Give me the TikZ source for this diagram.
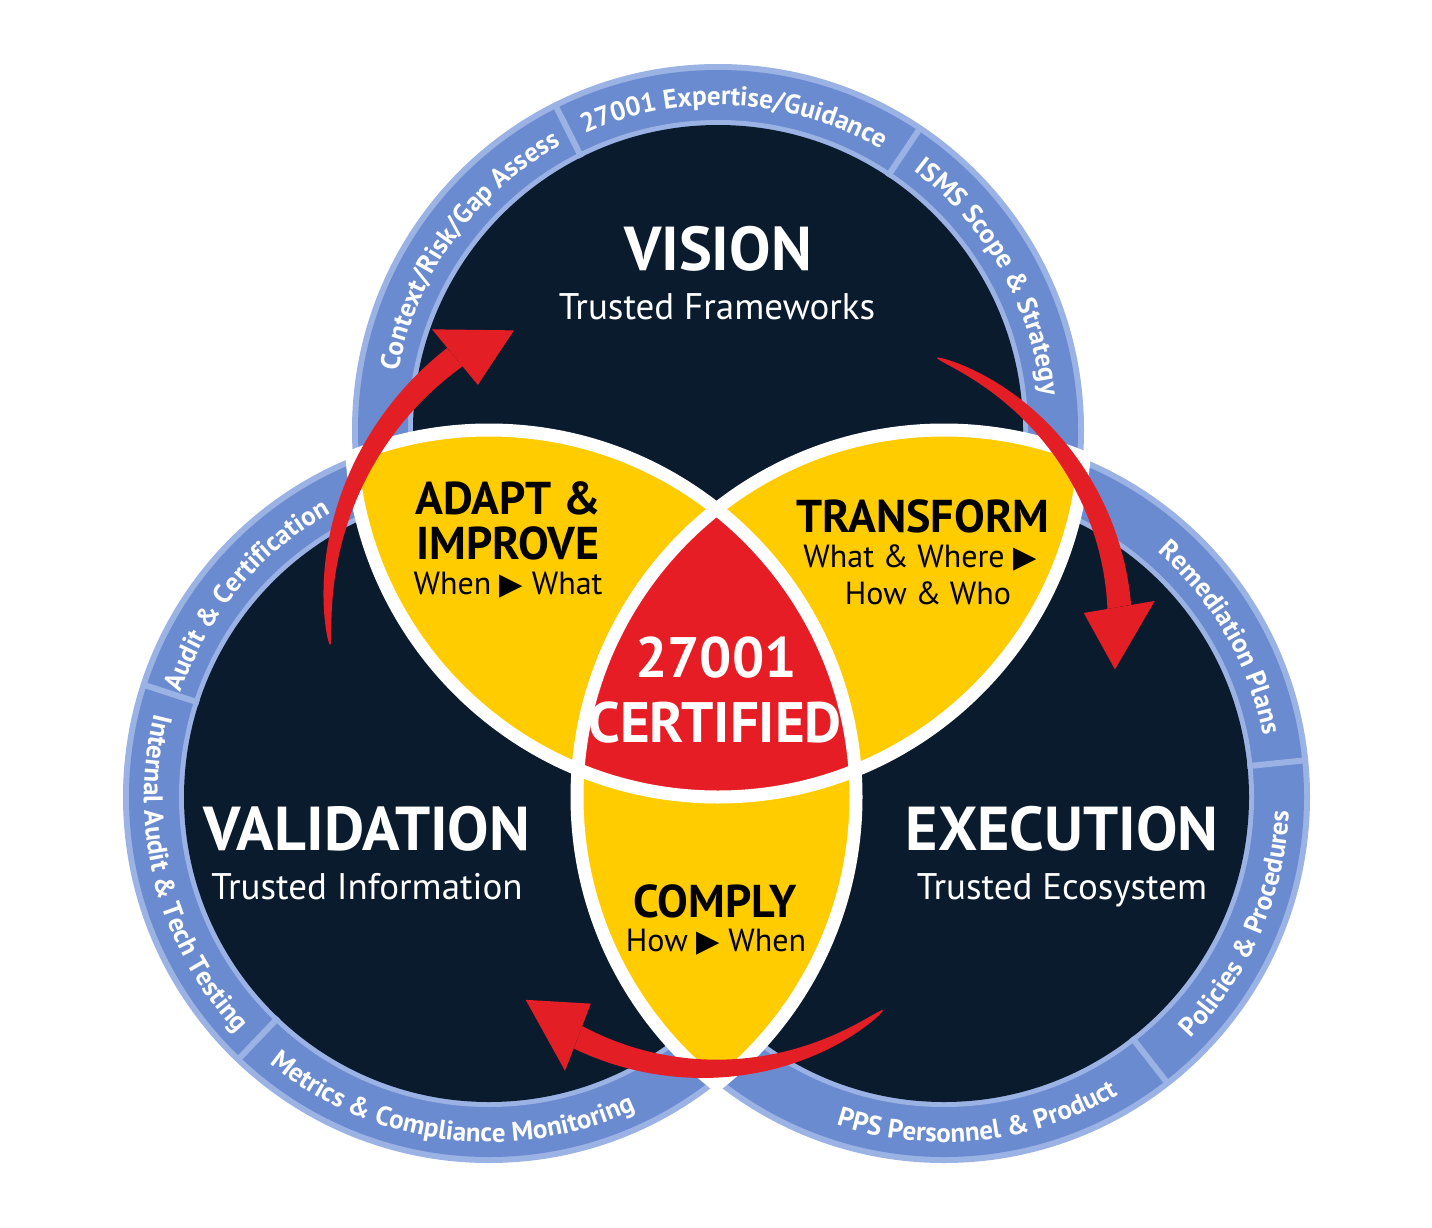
\documentclass[tikz,border=0pt]{standalone}
\usepackage{fontspec}
\usepackage{graphicx}
\setmainfont{PT Sans}
\newfontfamily\symfont{DejaVu Sans}
\usetikzlibrary{decorations.text}
\definecolor{navy}{HTML}{0B1B2E}
\definecolor{ringblue}{HTML}{6A8BCF}
\definecolor{ringlight}{HTML}{9BB2E4}
\definecolor{lensyellow}{HTML}{FFCC00}
\definecolor{certred}{HTML}{E71D25}
\definecolor{arrowred}{HTML}{E31E24}
\newcommand{\rf}{\bfseries\fontsize{27}{27}\selectfont}
\newcommand{\tri}{{\symfont\scalebox{0.95}{▶}}}
\newcommand{\ringdisk}[1]{%
  \fill[ringlight] (#1) circle[radius=366];
  \fill[ringblue] (#1) circle[radius=360];
  \fill[ringlight] (#1) circle[radius=310];
  \fill[navy] (#1) circle[radius=305];}
\newcommand{\divider}[2]{%
  \draw[ringlight, line width=6pt] ([shift={(#2:305)}]#1) -- ([shift={(#2:363)}]#1);}
% clockwise text (letter tops outward)
\newcommand{\cwtext}[3]{%
  \path[decorate, decoration={text along path, text align=center, text color=white, text={|\rf|#3}}]
    ([shift={({#2+45}:325)}]#1) arc[start angle={#2+45}, end angle={#2-45}, radius=325];}
% counter-clockwise text (letter tops inward)
\newcommand{\ccwtext}[3]{%
  \path[decorate, decoration={text along path, text align=center, text color=white, text={|\rf|#3}}]
    ([shift={({#2-45}:345)}]#1) arc[start angle={#2-45}, end angle={#2+45}, radius=345];}
\newcommand{\redarrow}[9]{%
  \begin{scope}[shift={(O)}]
  \fill[arrowred] plot[domain=0.002:1, samples=60, variable=\s]
      ({#1+(#2-#1)*\s}:{#4+(#5-#4)*\s+4*#6*\s*(1-\s)+0.5*#8*sqrt(\s)})
    -- plot[domain=1:0.002, samples=60, variable=\s]
      ({#1+(#2-#1)*\s}:{#4+(#5-#4)*\s+4*#6*\s*(1-\s)-0.5*#8*sqrt(\s)}) -- cycle;
  \fill[arrowred] (#2:{#5+#9}) -- (#3:#7) -- (#2:{#5-#9}) -- cycle;
  \end{scope}}
\tikzset{
  title/.style={anchor=base, inner sep=0pt, text=white, font=\bfseries\fontsize{62}{62}\selectfont},
  subtitle/.style={anchor=base, inner sep=0pt, text=white, font=\fontsize{37}{37}\selectfont},
  lenstitle/.style={anchor=base, inner sep=0pt, text=black, font=\bfseries\fontsize{46}{46}\selectfont},
  lenssub/.style={anchor=base, inner sep=0pt, text=black, font=\fontsize{32}{32}\selectfont},
  certtext/.style={anchor=base, inner sep=0pt, text=white, font=\bfseries\fontsize{57}{57}\selectfont},
  whiteline/.style={draw=white, line width=13pt},
}
\begin{document}
\begin{tikzpicture}[x=1pt, y=1pt]
\useasboundingbox (0,0) rectangle (1432,-1228);
\fill[white] (0,0) rectangle (1432,-1228);
\coordinate (T) at (718,-430);
\coordinate (L) at (489,-797);
\coordinate (R) at (944,-797);
\coordinate (O) at (717,-675);

% ---- top circle
\ringdisk{T}
\divider{T}{116.6}
\divider{T}{56.2}
\cwtext{T}{144.3}{Context/Risk/Gap Assess}
\cwtext{T}{87}{27001 Expertise/Guidance}
\cwtext{T}{29.5}{ISMS Scope {\&} Strategy}

% ---- bottom-left circle
\ringdisk{L}
\divider{L}{162}
\divider{L}{226.3}
\cwtext{L}{140.2}{Audit {\&} Certification}
\ccwtext{L}{194.6}{Internal Audit {\&} Tech Testing}
\ccwtext{L}{262.8}{Metrics {\&} Compliance Monitoring}

% ---- bottom-right circle
\ringdisk{R}
\divider{R}{5.8}
\divider{R}{308}
\ccwtext{R}{276.1}{PPS Personnel {\&} Product}
\ccwtext{R}{336.6}{Policies {\&} Procedures}
\cwtext{R}{30}{Remediation Plans}

% ---- overlaps
\begin{scope}
  \clip (T) circle[radius=367];
  \fill[lensyellow] (L) circle[radius=367];
  \fill[lensyellow] (R) circle[radius=367];
\end{scope}
\begin{scope}
  \clip (L) circle[radius=367];
  \fill[lensyellow] (R) circle[radius=367];
\end{scope}
\begin{scope}
  \clip (T) circle[radius=367];
  \clip (L) circle[radius=367];
  \fill[certred] (R) circle[radius=367];
\end{scope}
\begin{scope}
  \clip (L) circle[radius=368] (R) circle[radius=368];
  \draw[whiteline] (T) circle[radius=367];
\end{scope}
\begin{scope}
  \clip (T) circle[radius=368] (R) circle[radius=368];
  \draw[whiteline] (L) circle[radius=367];
\end{scope}
\begin{scope}
  \clip (T) circle[radius=368] (L) circle[radius=368];
  \draw[whiteline] (R) circle[radius=367];
\end{scope}

% ---- labels
\node[title] (vision) at (718,-270) {VISION};
\node[subtitle] (visionsub) at (717,-319) {Trusted Frameworks};
\node[title] (validation) at (367,-850) {VALIDATION};
\node[subtitle] (validationsub) at (367,-899) {Trusted Information};
\node[title] (execution) at (1062,-850) {EXECUTION};
\node[subtitle] (executionsub) at (1062,-899) {Trusted Ecosystem};
\node[lenstitle] (adapt) at (508,-514) {ADAPT \&};
\node[lenstitle] (improve) at (508,-559) {IMPROVE};
\node[lenssub] (adaptsub) at (508,-594) {When \tri{} What};
\node[lenstitle] (transform) at (923,-532) {TRANSFORM};
\node[lenssub] (transformsub) at (920,-567) {What \& Where \tri};
\node[lenssub] (transformsub2) at (928,-604) {How \& Who};
\node[certtext] (cert1) at (716,-677) {27001};
\node[certtext] (cert2) at (715,-742) {CERTIFIED};
\node[lenstitle] (comply) at (715,-917) {COMPLY};
\node[lenssub] (complysub) at (716,-951) {How \tri{} When};

% ---- cycle arrows
\redarrow{175.6}{129.5}{120.5}{388}{412}{10}{400}{24}{36}
\redarrow{55.3}{9.6}{0.8}{386}{408}{14}{398}{24}{36}
\redarrow{296.4}{249}{239.5}{374}{388}{12}{377}{24}{36}
\end{tikzpicture}
\end{document}
